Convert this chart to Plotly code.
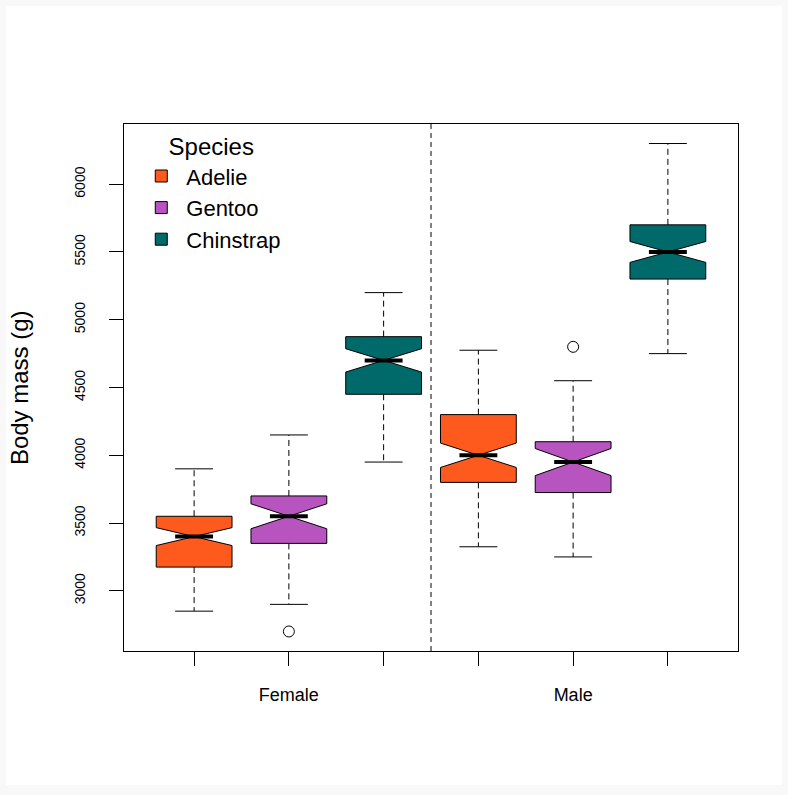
import plotly.graph_objects as go

# ---- data ----
sexes = ["Female", "Male"]
species = ["Adelie", "Gentoo", "Chinstrap"]
species_colors = ["#FF5A1E", "#B854BF", "#006A6A"]

# order inside each list: [Female, Male]
adelie_stats = {"wlo": [2850, 3325], "q1": [3175, 3800], "med": [3400, 4000], "q3": [3550, 4300], "whi": [3900, 4775], "notch": [66, 90]}
gentoo_stats = {"wlo": [2900, 3250], "q1": [3350, 3725], "med": [3550, 3950], "q3": [3700, 4100], "whi": [4150, 4550], "notch": [92, 100]}
chinstrap_stats = {"wlo": [3950, 4750], "q1": [4450, 5300], "med": [4700, 5500], "q3": [4875, 5700], "whi": [5200, 6300], "notch": [86, 77]}
all_stats = [adelie_stats, gentoo_stats, chinstrap_stats]

outlier_species = ["Gentoo", "Gentoo"]
outlier_sex = ["Female", "Male"]
outlier_values = [2700, 4800]

y_ticks = [3000, 3500, 4000, 4500, 5000, 5500, 6000]

FONT = "Liberation Sans, Arial, Helvetica, sans-serif"
n_sp = len(species)
box_w = 0.8
half_inner = box_w / 2 * 0.5


def pos(sex_i, sp_i):
    return sex_i * n_sp + sp_i + 1


fig = go.Figure()

# boxes (legend entries)
for si, (name, col, st) in enumerate(zip(species, species_colors, all_stats)):
    xs = [pos(k, si) for k in range(len(sexes))]
    fig.add_trace(go.Box(
        x=xs, q1=st["q1"], median=st["med"], q3=st["q3"],
        lowerfence=st["q1"], upperfence=st["q3"],
        notched=True, notchwidth=0.5, notchspan=st["notch"],
        width=box_w, whiskerwidth=0,
        fillcolor=col, line=dict(color="black", width=1),
        name=name, boxpoints=False, hoverinfo="skip",
    ))

# whiskers, caps, medians
for si, st in enumerate(all_stats):
    wx, wy, cx, cy, mx, my = [], [], [], [], [], []
    for k in range(len(sexes)):
        p = pos(k, si)
        wx += [p, p, None, p, p, None]
        wy += [st["q3"][k], st["whi"][k], None, st["q1"][k], st["wlo"][k], None]
        cx += [p - half_inner, p + half_inner, None, p - half_inner, p + half_inner, None]
        cy += [st["whi"][k], st["whi"][k], None, st["wlo"][k], st["wlo"][k], None]
        mx += [p - half_inner, p + half_inner, None]
        my += [st["med"][k], st["med"][k], None]
    fig.add_trace(go.Scatter(x=wx, y=wy, mode="lines", showlegend=False, hoverinfo="skip",
                             line=dict(color="black", width=1, dash="6px,4px")))
    fig.add_trace(go.Scatter(x=cx, y=cy, mode="lines", showlegend=False, hoverinfo="skip",
                             line=dict(color="black", width=1)))
    fig.add_trace(go.Scatter(x=mx, y=my, mode="lines", showlegend=False, hoverinfo="skip",
                             line=dict(color="black", width=4)))

# outliers
fig.add_trace(go.Scatter(
    x=[pos(sexes.index(s), species.index(sp)) for s, sp in zip(outlier_sex, outlier_species)],
    y=outlier_values, mode="markers", showlegend=False, hoverinfo="skip",
    marker=dict(symbol="circle-open", size=11, color="black", line=dict(width=1, color="black")),
))

# separator between sexes
fig.add_shape(type="line", xref="x", yref="paper", x0=n_sp + 0.5, x1=n_sp + 0.5, y0=0, y1=1,
              line=dict(color="black", width=1, dash="5px,4px"))

n_pos = n_sp * len(sexes)
tick_text = []
for k, s in enumerate(sexes):
    for si in range(n_sp):
        tick_text.append(s if si == n_sp // 2 else "")

fig.add_annotation(text="Body mass (g)", xref="paper", yref="paper", x=-0.17, y=0.5,
                   xanchor="center", yanchor="middle", textangle=-90, showarrow=False,
                   font=dict(family=FONT, size=24, color="black"))

fig.update_layout(
    width=782, height=779,
    margin=dict(l=118, r=50, t=118, b=134),
    paper_bgcolor="white", plot_bgcolor="white",
    font=dict(family=FONT, color="black"),
    showlegend=True,
    legend=dict(x=0.02, y=1.0, xanchor="left", yanchor="top",
                bgcolor="rgba(0,0,0,0)", borderwidth=0,
                font=dict(family=FONT, size=22, color="black"),
                title=dict(text="Species", side="top center", font=dict(family=FONT, size=24, color="black")),
                itemwidth=40, tracegroupgap=0),
    xaxis=dict(range=[0.26, n_pos + 0.74], tickvals=list(range(1, n_pos + 1)), ticktext=tick_text,
               ticks="outside", ticklen=14, tickwidth=1, tickcolor="black",
               showline=True, mirror=True, linecolor="black", linewidth=1,
               showgrid=False, zeroline=False, ticklabelstandoff=13,
               tickfont=dict(family=FONT, size=18, color="black")),
    yaxis=dict(range=[2556, 6444], tickvals=y_ticks, ticktext=[str(v) for v in y_ticks],
               tickangle=-90, ticks="outside", ticklen=14, tickwidth=1, tickcolor="black",
               showline=True, mirror=True, linecolor="black", linewidth=1,
               showgrid=False, zeroline=False, ticklabelstandoff=18,
               tickfont=dict(family=FONT, size=14, color="black")),
)

fig.write_html("out.html", post_script="document.body.style.margin='6px';document.body.style.background='#f8f8f8';")
